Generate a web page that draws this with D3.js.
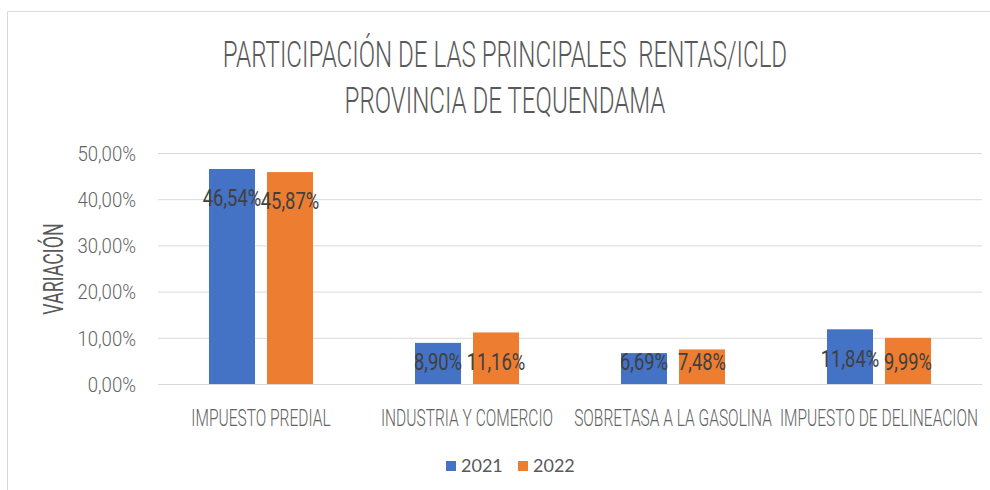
<!DOCTYPE html>
<html>
<head>
<meta charset="utf-8">
<script src="https://cdn.jsdelivr.net/npm/d3@7"></script>
<style>
  html, body { margin: 0; padding: 0; background: #fff; }
  svg { display: block; }
  text { white-space: pre; }
</style>
</head>
<body>
<svg id="chart" width="990" height="490"></svg>
<script>
// Participación de las principales rentas / ICLD, Provincia de Tequendama
const categories = ["IMPUESTO PREDIAL", "INDUSTRIA Y COMERCIO", "SOBRETASA A LA GASOLINA", "IMPUESTO DE DELINEACION"];
const years = ["2021", "2022"];
const values2021 = [0.4654, 0.0890, 0.0669, 0.1184];
const values2022 = [0.4587, 0.1116, 0.0748, 0.0999];
const yTicks = [0, 0.1, 0.2, 0.3, 0.4, 0.5];
const titleLines = ["PARTICIPACIÓN DE LAS PRINCIPALES  RENTAS/ICLD", "PROVINCIA DE TEQUENDAMA"];
const yTitle = "VARIACIÓN";

const colors = { "2021": "#4472C4", "2022": "#ED7D31" };
const seriesValues = { "2021": values2021, "2022": values2022 };

const svg = d3.select("#chart");
const FONT = "Roboto, 'Liberation Sans', sans-serif";

// squeeze a text node horizontally to get a condensed look
function condense(sel, k) {
  sel.each(function () {
    const w = this.getComputedTextLength();
    d3.select(this).attr("textLength", w * k).attr("lengthAdjust", "spacingAndGlyphs");
  });
}

const pctFmt = v => d3.format(".2f")(v * 100).replace(".", ",") + "%";

// chart frame
svg.append("path")
  .attr("d", "M7.5,490 V11.5 H990")
  .attr("fill", "none").attr("stroke", "#d9d9d9").attr("stroke-width", 1);

// plot area
const plot = { left: 158, right: 982, top: 153, bottom: 384 };

const y = d3.scaleLinear().domain([0, 0.5]).range([plot.bottom, plot.top]);
const x0 = d3.scaleBand().domain(categories)
  .range([plot.left, plot.right]).paddingInner(0.495).paddingOuter(0.2475);
const x1 = d3.scaleBand().domain(years)
  .range([0, x0.bandwidth()]).paddingInner(0.2069).paddingOuter(0);

// y axis with gridlines
const yAxis = svg.append("g")
  .attr("transform", `translate(${plot.left},0)`)
  .call(d3.axisLeft(y).tickValues(yTicks).tickFormat(pctFmt)
    .tickSize(-(plot.right - plot.left)).tickPadding(22));
yAxis.select(".domain").remove();
yAxis.selectAll(".tick line").attr("stroke", "#d9d9d9").attr("stroke-width", 1);
yAxis.selectAll(".tick text")
  .attr("fill", "#636363").style("font-family", FONT).style("font-size", "20px").style("font-weight", 300)
  .attr("dy", "0.36em")
  .call(condense, 0.93);

// bars
const groups = svg.append("g").selectAll("g")
  .data(categories)
  .join("g")
  .attr("transform", d => `translate(${x0(d)},0)`);

const barData = (c, i) => years.map(yr => ({ year: yr, value: seriesValues[yr][i] }));

groups.selectAll("rect")
  .data(barData)
  .join("rect")
  .attr("x", d => x1(d.year))
  .attr("y", d => y(d.value))
  .attr("width", x1.bandwidth())
  .attr("height", d => y(0) - y(d.value))
  .attr("fill", d => colors[d.year]);

// value labels near the top of each bar
groups.selectAll("text.val")
  .data(barData)
  .join("text")
  .attr("class", "val")
  .attr("x", d => x1(d.year) + x1.bandwidth() / 2)
  .attr("y", d => Math.min(y(d.value) + 29, y(0) - 22))
  .attr("dy", "0.36em")
  .attr("text-anchor", "middle")
  .attr("fill", "#404040")
  .style("font-family", FONT).style("font-size", "23px")
  .text(d => pctFmt(d.value))
  .call(condense, 0.8);

// category labels
svg.append("g").selectAll("text")
  .data(categories)
  .join("text")
  .attr("x", d => x0(d) + x0.bandwidth() / 2)
  .attr("y", 426)
  .attr("text-anchor", "middle")
  .attr("fill", "#636363")
  .style("font-family", FONT).style("font-size", "23px").style("font-weight", 300)
  .text(d => d)
  .call(condense, 0.675);

// y-axis title
svg.append("text")
  .attr("transform", "translate(53,269) rotate(-90)")
  .attr("dy", "0.36em")
  .attr("text-anchor", "middle")
  .attr("fill", "#595959")
  .style("font-family", FONT).style("font-size", "27px")
  .text(yTitle)
  .call(condense, 0.66);

// chart title
svg.append("g").selectAll("text")
  .data(titleLines)
  .join("text")
  .attr("x", 505)
  .attr("y", (d, i) => 67 + i * 46)
  .attr("text-anchor", "middle")
  .attr("fill", "#595959")
  .style("font-family", FONT).style("font-size", "36px").style("font-weight", 300)
  .text(d => d)
  .call(condense, 0.67);

// legend
const legend = svg.append("g").selectAll("g")
  .data(years)
  .join("g")
  .attr("transform", (d, i) => `translate(${446 + i * 72},461)`);
legend.append("rect")
  .attr("width", 10).attr("height", 10)
  .attr("fill", d => colors[d]);
legend.append("text")
  .attr("x", 15).attr("y", 5)
  .attr("dy", "0.36em")
  .attr("fill", "#595959")
  .style("font-family", "Lato, 'Open Sans', sans-serif").style("font-size", "18px")
  .text(d => d);
</script>
</body>
</html>
